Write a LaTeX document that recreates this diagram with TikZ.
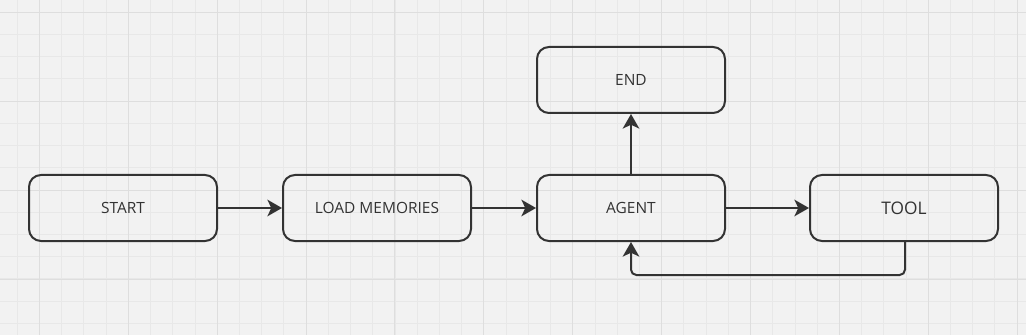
\documentclass[tikz,border=0pt]{standalone}
\usepackage{fontspec}
\setmainfont{Open Sans}
\usetikzlibrary{arrows.meta}
\definecolor{bg}{HTML}{F2F2F2}
\definecolor{minorgrid}{HTML}{E8E8E8}
\definecolor{majorgrid}{HTML}{DEDEDE}
\definecolor{ink}{HTML}{333333}
\tikzset{
  flowbox/.style={draw=ink, line width=1.5pt, rounded corners=9pt, minimum width=141pt, minimum height=49.5pt, inner sep=0pt, text=ink, font=\fontsize{11.6pt}{14pt}\selectfont, fill=none},
  flowarrow/.style={draw=ink, line width=1.5pt, -{Stealth[length=11pt,width=12.5pt,inset=3pt]}},
}
\begin{document}
\begin{tikzpicture}[x=0.75pt,y=-0.75pt]
\useasboundingbox (0,0) rectangle (1026,335);
\fill[bg] (0,0) rectangle (1026,335);
\foreach \k in {0,...,46} {
  \draw[minorgrid, line width=0.75pt] ({17.3+22.22*\k},0) -- ({17.3+22.22*\k},335);
}
\foreach \k in {0,...,15} {
  \draw[minorgrid, line width=0.75pt] (0,{12.3+22.22*\k}) -- (1026,{12.3+22.22*\k});
}
\foreach \k in {0,...,11} {
  \draw[majorgrid, line width=0.75pt] ({39.3+88.9*\k},0) -- ({39.3+88.9*\k},335);
}
\foreach \k in {0,...,3} {
  \draw[majorgrid, line width=0.75pt] (0,{12.3+88.9*\k}) -- (1026,{12.3+88.9*\k});
}
\node[flowbox] (start) at (123,208) {START};
\node[flowbox] (load) at (377,208) {LOAD MEMORIES};
\node[flowbox] (agent) at (631,208) {AGENT};
\node[flowbox] (end) at (631,80) {END};
\node[flowbox, font=\fontsize{13pt}{15pt}\selectfont] (tool) at (904,208) {TOOL};
\coordinate (loopR) at (905,275);
\coordinate (loopL) at (631,275);
\draw[flowarrow] (start) -- (load);
\draw[flowarrow] (load) -- (agent);
\draw[flowarrow] (agent) -- (end);
\draw[flowarrow] (agent) -- (tool);
\draw[flowarrow, rounded corners=4pt] (tool.south -| loopR) -- (loopR) -- (loopL) -- (agent.south);
\end{tikzpicture}
\end{document}
